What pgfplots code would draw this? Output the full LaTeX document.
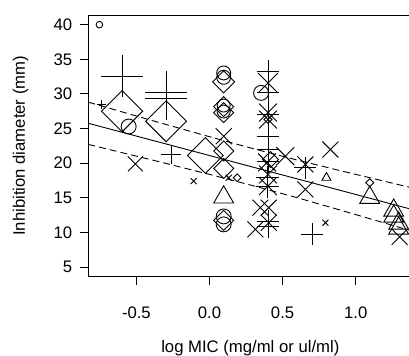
\documentclass[border=0pt]{standalone}
\usepackage{pgfplots}
\pgfplotsset{compat=1.18}
\usepackage{fontspec}
\setmainfont{Liberation Sans}
\newcommand{\lblfont}{\fontsize{16.7bp}{20bp}\selectfont}
\pgfplotsset{
  varmark/.style={scatter, only marks, black, line width=0.9bp,
    scatter/use mapped color={draw=black},
    visualization depends on={\thisrow{s}\as\ms},
    scatter/@pre marker code/.append style={/tikz/mark size=\ms}},
}
\begin{document}
\begin{tikzpicture}
\useasboundingbox (-88.3bp,-79.3bp) rectangle (320.7bp,276.7bp);
\begin{axis}[
  at={(0,0)}, anchor=south west,
  scale only axis,
  width=324.1bp, height=261.7bp,
  xmin=-0.829, xmax=1.388, ymin=3.6, ymax=41.4,
  xtick={-0.5,0,0.5,1}, xticklabels={-0.5,0.0,0.5,1.0},
  ytick={5,10,...,40},
  tick align=outside, tick pos=left,
  major tick length=8bp,
  axis line style={line width=0.9bp},
  every tick/.style={black, line width=0.9bp},
  /pgf/number format/assume math mode=true,
  ticklabel style={font=\lblfont, inner sep=0pt},
  xticklabel style={anchor=base, yshift=-34bp},
  yticklabel style={anchor=east, xshift=-8bp},
  xlabel={log MIC (mg/ml or ul/ml)},
  ylabel={Inhibition diameter (mm)},
  every axis x label/.style={at={([yshift=-75.3bp]axis description cs:0.5,0)}, anchor=base, font=\lblfont, inner sep=0pt},
  every axis y label/.style={at={([xshift=-63.3bp]axis description cs:0,0.5)}, anchor=base, rotate=90, font=\lblfont, inner sep=0pt},
]
% regression line and bands
\addplot[black, line width=0.9bp] coordinates {(-0.829,25.76) (1.388,13.30)};
\addplot[black, line width=0.9bp, dash pattern=on 7bp off 4bp] coordinates {
(-0.829,28.81) (-0.4,26.20) (0,23.82) (0.3,22.09) (0.6,20.45) (0.9,18.89) (1.388,16.42)};
\addplot[black, line width=0.9bp, dash pattern=on 7bp off 4bp] coordinates {
(-0.829,22.71) (-0.4,20.50) (0,18.38) (0.3,16.73) (0.6,15.01) (0.9,13.19) (1.388,10.18)};
% circles
\addplot[varmark, mark=o] table {
x y s
-0.753 40.0 3.3
-0.553 25.29 7.5
0.097 33.03 7
0.097 32.40 7
0.097 28.32 6.5
0.097 27.45 6.5
0.097 12.31 7.5
0.097 11.16 7.5
0.353 30.15 7.5
};
% plus
\addplot[varmark, mark=+] table {
x y s
-0.598 32.54 21
-0.297 30.24 21
-0.297 29.29 21
-0.741 28.46 4.5
-0.263 21.25 10
0.40 33.27 11.5
0.40 30.15 11.5
0.40 27.0 11.5
0.40 23.89 11.5
0.40 21.97 11.5
0.40 20.3 11.5
0.394 17.89 11.5
0.394 16.68 11.5
0.40 11.63 11.5
0.40 10.91 11.5
0.656 19.33 11
0.702 9.72 11
};
% crosses
\addplot[varmark, mark=x] table {
x y s
-0.507 19.91 10.6
-0.108 17.40 4.2
0.097 23.89 11.3
0.131 17.89 4.2
0.40 31.59 14.1
0.40 27.31 12.7
0.40 26.30 12.7
0.394 20.1 12.7
0.519 21.0 12.7
0.40 18.37 12.7
0.40 16.68 12.7
0.348 13.57 11.3
0.405 13.57 11.3
0.314 10.44 11.3
0.405 11.4 11.3
0.827 21.97 11.3
0.656 19.81 11.3
0.656 16.2 11.3
0.793 11.4 4.2
1.301 9.35 11.3
};
% diamonds
\addplot[varmark, mark=square, mark options={rotate=45}] table {
x y s
-0.598 27.50 14.6
-0.297 26.05 14.5
-0.028 21.11 12.7
0.097 31.74 7.8
0.097 28.17 7.1
0.097 27.30 7.1
0.097 21.76 7.1
0.097 19.23 7.1
0.097 11.73 7.1
0.189 17.89 2.8
0.40 26.30 2.8
0.417 20.53 5.7
1.096 17.17 2.8
};
% triangles
\addplot[varmark, mark=triangle] table {
x y s
0.097 15.08 11.5
0.80 17.9 5.2
1.096 15.02 11.5
1.26 13.17 11.5
1.26 12.31 11.5
1.294 11.30 11.5
1.294 10.58 11.5
};
\end{axis}
\end{tikzpicture}
\end{document}
